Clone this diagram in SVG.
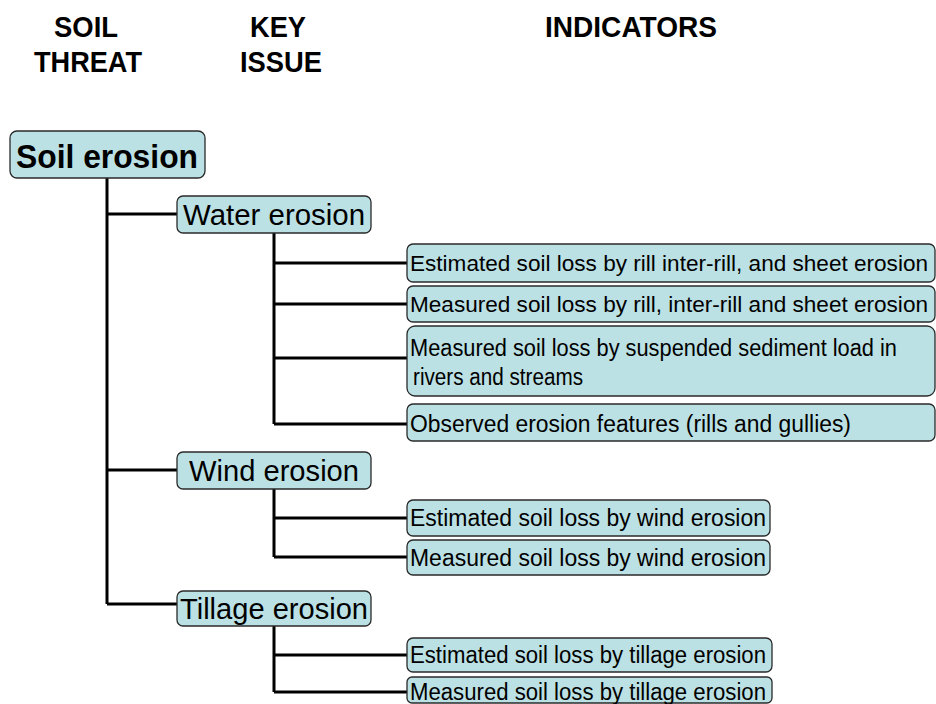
<svg xmlns="http://www.w3.org/2000/svg" width="936" height="704" viewBox="0 0 936 704">
<style>
  .hdr { font-family: "Liberation Sans", Arial, sans-serif; font-weight: bold; font-size: 29px; fill: #000; text-anchor: middle; }
  .box { fill: #bce1e4; stroke: #2a2a2a; stroke-width: 1.3; }
  .root { font-family: "Liberation Sans", Arial, sans-serif; font-weight: bold; font-size: 34px; fill: #000; }
  .key { font-family: "Liberation Sans", Arial, sans-serif; font-size: 30px; fill: #000; text-anchor: middle; }
  .ind { font-family: "Liberation Sans", Arial, sans-serif; font-size: 23.5px; fill: #000; }
  .wide { font-size: 22.4px; }
  .conn { stroke: #000; stroke-width: 3; fill: none; }
</style>
<rect width="936" height="704" fill="#fff"/>
<g id="headers">
  <text class="hdr" x="86" y="37" textLength="64" lengthAdjust="spacingAndGlyphs">SOIL</text>
  <text class="hdr" x="88" y="72" textLength="108" lengthAdjust="spacingAndGlyphs">THREAT</text>
  <text class="hdr" x="278" y="37" textLength="56" lengthAdjust="spacingAndGlyphs">KEY</text>
  <text class="hdr" x="281" y="72" textLength="82" lengthAdjust="spacingAndGlyphs">ISSUE</text>
  <text class="hdr" x="631" y="37" textLength="172" lengthAdjust="spacingAndGlyphs">INDICATORS</text>
</g>
<g id="connectors">
  <path class="conn" d="M107 178 V604 M107 214 H177 M107 470 H177 M107 604 H177"/>
  <path class="conn" d="M274 233 V424 M274 263 H407 M274 304 H407 M274 358 H407 M274 424 H407"/>
  <path class="conn" d="M274 489 V557 M274 518 H407 M274 557 H407"/>
  <path class="conn" d="M274 626 V692 M274 655 H407 M274 692 H407"/>
</g>
<g id="n-soil-erosion">
  <rect class="box" x="10" y="131" width="195" height="47" rx="7"/>
  <text class="root" x="16" y="168" textLength="182" lengthAdjust="spacingAndGlyphs">Soil erosion</text>
</g>
<g id="n-water">
  <rect class="box" x="177" y="196" width="194" height="37" rx="6"/>
  <text class="key" x="274" y="225" textLength="182" lengthAdjust="spacingAndGlyphs">Water erosion</text>
</g>
<g id="n-wind">
  <rect class="box" x="177" y="452" width="194" height="37" rx="6"/>
  <text class="key" x="274" y="481" textLength="170" lengthAdjust="spacingAndGlyphs">Wind erosion</text>
</g>
<g id="n-tillage">
  <rect class="box" x="177" y="591" width="194" height="35" rx="6"/>
  <text class="key" x="274" y="619" textLength="188" lengthAdjust="spacingAndGlyphs">Tillage erosion</text>
</g>
<g id="i-water-1">
  <rect class="box" x="407" y="244" width="528" height="38" rx="6"/>
  <text class="ind wide" x="410" y="271" textLength="518" lengthAdjust="spacingAndGlyphs">Estimated soil loss by rill inter-rill, and sheet erosion</text>
</g>
<g id="i-water-2">
  <rect class="box" x="407" y="286" width="528" height="36" rx="6"/>
  <text class="ind wide" x="410" y="312" textLength="518" lengthAdjust="spacingAndGlyphs">Measured soil loss by rill, inter-rill and sheet erosion</text>
</g>
<g id="i-water-3">
  <rect class="box" x="407" y="326" width="528" height="70" rx="8"/>
  <text class="ind" x="410" y="356" textLength="487" lengthAdjust="spacingAndGlyphs">Measured soil loss by suspended sediment load in</text>
  <text class="ind" x="413" y="385" textLength="170" lengthAdjust="spacingAndGlyphs">rivers and streams</text>
</g>
<g id="i-water-4">
  <rect class="box" x="407" y="404" width="528" height="37" rx="6"/>
  <text class="ind" x="410" y="432" textLength="441" lengthAdjust="spacingAndGlyphs">Observed erosion features (rills and gullies)</text>
</g>
<g id="i-wind-1">
  <rect class="box" x="407" y="500" width="363" height="36" rx="6"/>
  <text class="ind" x="410" y="526" textLength="356" lengthAdjust="spacingAndGlyphs">Estimated soil loss by wind erosion</text>
</g>
<g id="i-wind-2">
  <rect class="box" x="407" y="540" width="363" height="35" rx="6"/>
  <text class="ind" x="410" y="566" textLength="356" lengthAdjust="spacingAndGlyphs">Measured soil loss by wind erosion</text>
</g>
<g id="i-till-1">
  <rect class="box" x="407" y="638" width="365" height="34" rx="6"/>
  <text class="ind" x="410" y="663" textLength="356" lengthAdjust="spacingAndGlyphs">Estimated soil loss by tillage erosion</text>
</g>
<g id="i-till-2">
  <rect class="box" x="407" y="677" width="365" height="26" rx="5"/>
  <text class="ind" x="410" y="700" textLength="356" lengthAdjust="spacingAndGlyphs">Measured soil loss by tillage erosion</text>
</g>
</svg>
